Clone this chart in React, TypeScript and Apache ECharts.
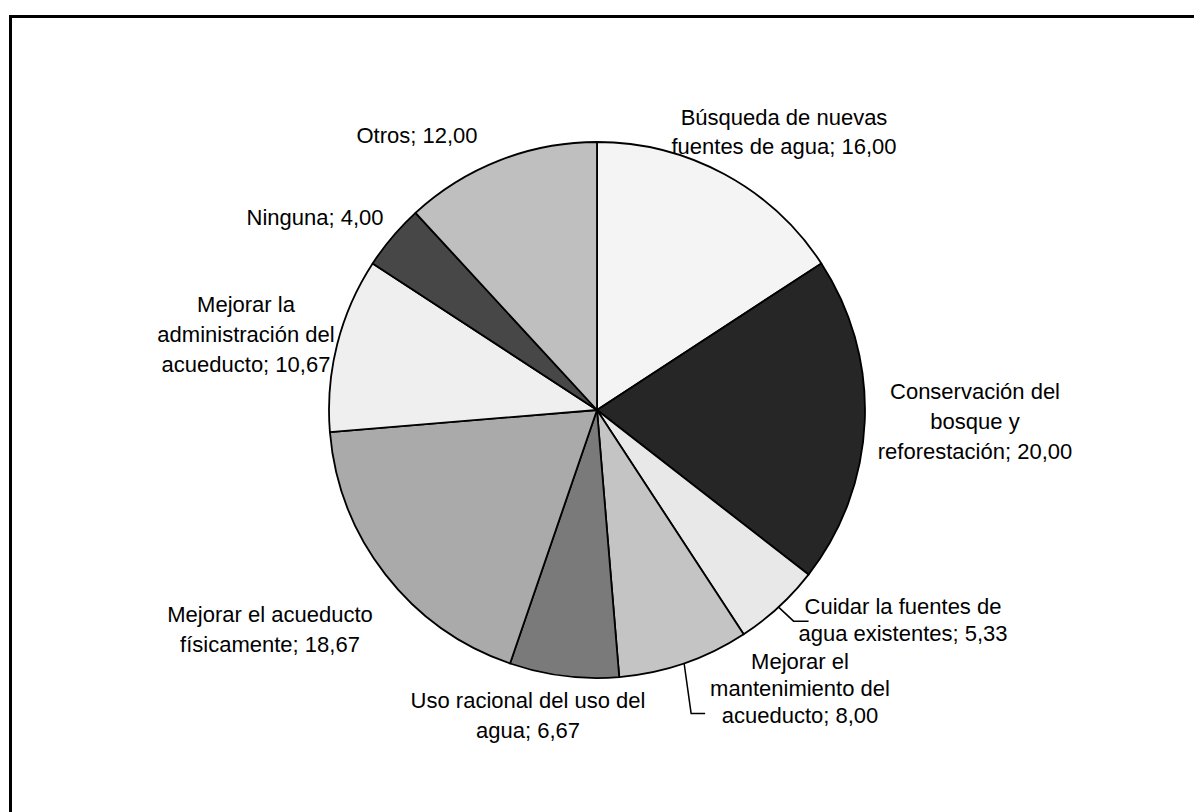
import React, { useEffect, useRef } from "react";
import * as echarts from "echarts";

// Respuestas: acciones propuestas para el manejo del agua (%)
const categories = [
  "Búsqueda de nuevas\nfuentes de agua",
  "Conservación del\nbosque y\nreforestación",
  "Cuidar la fuentes de\nagua existentes",
  "Mejorar el\nmantenimiento del\nacueducto",
  "Uso racional del uso del\nagua",
  "Mejorar el acueducto\nfísicamente",
  "Mejorar la\nadministración del\nacueducto",
  "Ninguna",
  "Otros",
];

const values = [16.0, 20.0, 5.33, 8.0, 6.67, 18.67, 10.67, 4.0, 12.0];

// Grey tones standing in for the hatched fills of each slice
const sliceColors = [
  "#f4f4f4",
  "#262626",
  "#e8e8e8",
  "#c4c4c4",
  "#7a7a7a",
  "#aaaaaa",
  "#efefef",
  "#474747",
  "#bfbfbf",
];

const CX = 597;
const CY = 410;
const R = 268;

// Centres of the label blocks around the pie, with their line spacing
const labelAnchors: [number, number, number][] = [
  [784, 132, 29],
  [975, 421, 30],
  [903, 620, 27],
  [800, 688, 27],
  [528, 715, 30],
  [270, 629, 30],
  [246, 334, 30],
  [315, 217, 30],
  [417, 135, 30],
];

const total = values.reduce((a, b) => a + b, 0);

function arcMidPoint(i: number): [number, number] {
  let cum = 0;
  for (let k = 0; k < i; k++) cum += values[k];
  const a = ((cum + values[i] / 2) / total) * Math.PI * 2;
  return [CX + R * Math.sin(a), CY - R * Math.cos(a)];
}

function fmt(v: number) {
  return v.toFixed(2).replace(".", ",");
}

export default function App() {
  const ref = useRef<HTMLDivElement>(null);

  useEffect(() => {
    if (!ref.current) return;
    const chart = echarts.init(ref.current, null, { renderer: "svg" });
    const withLeader = new Set([2, 3]);

    chart.setOption({
      animation: false,
      backgroundColor: "#ffffff",
      graphic: [
        {
          type: "rect",
          shape: { x: 10.5, y: 16.5, width: 1400, height: 1000 },
          style: { fill: "none", stroke: "#000", lineWidth: 3 },
          silent: true,
        },
      ],
      series: [
        {
          type: "pie",
          center: [CX, CY],
          radius: R,
          startAngle: 90,
          clockwise: true,
          avoidLabelOverlap: false,
          itemStyle: { borderColor: "#000", borderWidth: 1.8 },
          emphasis: { disabled: true },
          label: {
            show: true,
            position: "outside",
            color: "#000",
            fontFamily: "'Liberation Sans', Arial, sans-serif",
            fontSize: 22,
            lineHeight: 30,
            align: "center",
            formatter: (p: any) => `${p.name}; ${fmt(p.value)}`,
          },
          labelLine: { show: false },
          labelLayout: (params: any) => {
            const i = params.dataIndex;
            const [x, y] = labelAnchors[i];
            const out: any = { x, y, align: "center", verticalAlign: "middle" };
            if (i === 2) {
              const p0 = arcMidPoint(i);
              const p1 = [p0[0] + 15, p0[1] + 14];
              const p2 = [p1[0] + 15, p1[1]];
              out.labelLinePoints = [p0, p1, p2];
            } else if (i === 3) {
              const p0 = arcMidPoint(i);
              const p1 = [p0[0] + 7, p0[1] + 50];
              const p2 = [p1[0] + 14, p1[1]];
              out.labelLinePoints = [p0, p1, p2];
            }
            return out;
          },
          data: values.map((v, i) => ({
            name: categories[i],
            value: v,
            itemStyle: { color: sliceColors[i] },
            label: { lineHeight: labelAnchors[i][2] },
            labelLine: withLeader.has(i)
              ? { show: true, lineStyle: { color: "#000", width: 1.5 } }
              : { show: false },
          })),
        },
      ],
    });

    return () => chart.dispose();
  }, []);

  return (
    <div
      ref={ref}
      style={{ position: "fixed", left: 0, top: 0, width: 1194, height: 812 }}
    />
  );
}
